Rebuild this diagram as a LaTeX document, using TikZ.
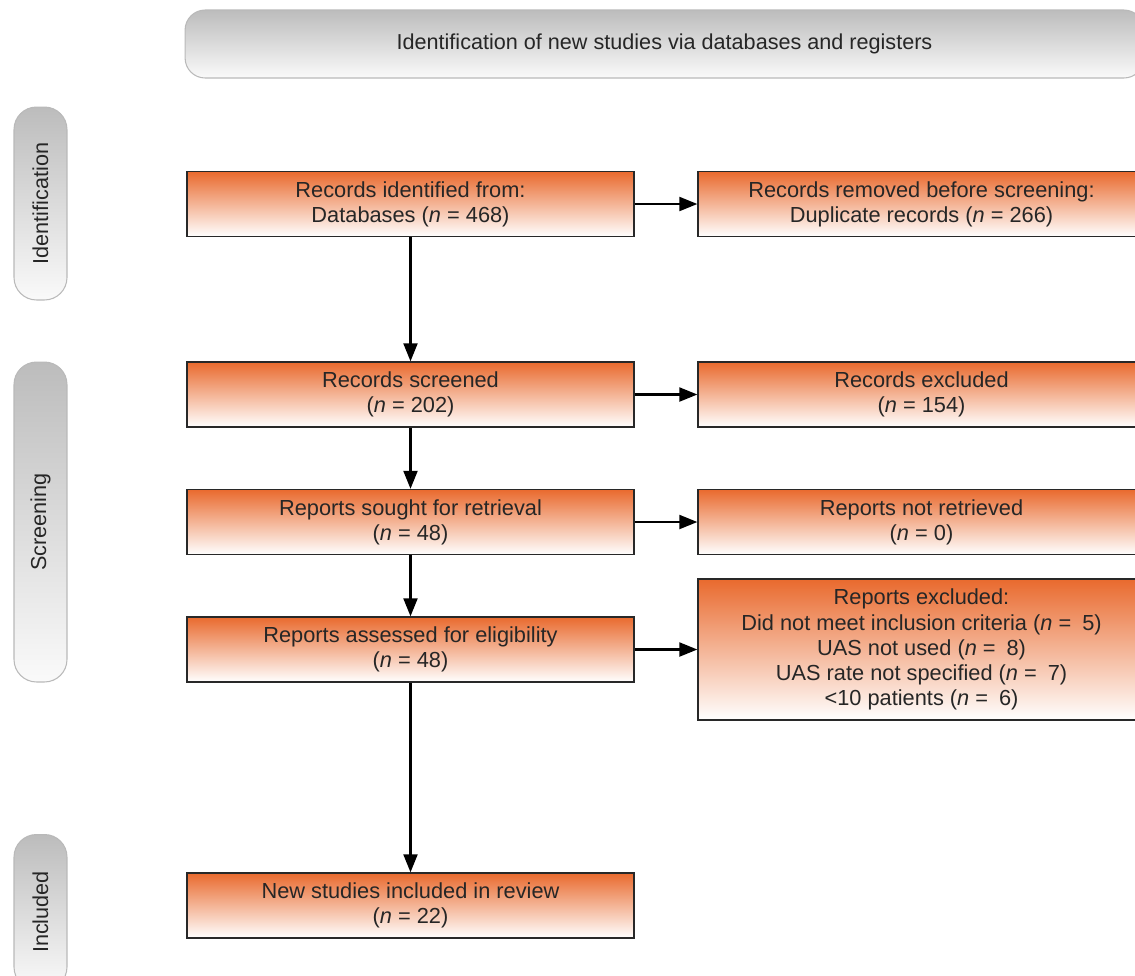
\documentclass[tikz,border=0pt]{standalone}
\usepackage{fontspec}
\setmainfont{Liberation Sans}
\usetikzlibrary{arrows.meta}
\definecolor{boxorange}{RGB}{233,106,46}
\definecolor{boxline}{RGB}{40,40,40}
\definecolor{bargray}{RGB}{188,188,188}

\begin{document}
\begin{tikzpicture}[x=0.02cm,y=-0.02cm,
    box/.style={draw=boxline,line width=0.8pt,top color=boxorange,bottom color=white,
      minimum width=8.94cm,minimum height=1.3cm,inner sep=0pt,align=center,
      font=\fontsize{12.4}{14.3}\selectfont,text=black!85},
    phase/.style={draw=gray!55,line width=0.6pt,rounded corners=0.45cm,top color=bargray,
      bottom color=gray!4,minimum height=1.06cm,inner sep=0pt,
      font=\fontsize{12.3}{14}\selectfont,text=black!85},
    arr/.style={-{Triangle[length=0.36cm,width=0.28cm]},line width=1.2pt}]
  \clip (0,0) rectangle (1135,975);

  % phase bars
  \node[phase,minimum width=19.18cm,minimum height=1.36cm,rounded corners=0.4cm] (h) at (664.5,44)
    {Identification of new studies via databases and registers};
  \node[phase,rotate=90,minimum width=3.86cm] (s1) at (40.5,203.5) {Identification};
  \node[phase,rotate=90,minimum width=6.4cm] (s2) at (40.5,522) {Screening};
  \node[phase,rotate=90,minimum width=3.1cm] (s3) at (40.5,912) {Included};

  % main column
  \node[box] (1) at (410.5,204) {Records identified from:\\Databases (\textit{n} = 468)};
  \node[box] (2) at (410.5,394.5) {Records screened\\(\textit{n} = 202)};
  \node[box] (3) at (410.5,522) {Reports sought for retrieval\\(\textit{n} = 48)};
  \node[box] (4) at (410.5,649.5) {Reports assessed for eligibility\\(\textit{n} = 48)};
  \node[box] (5) at (410.5,905.5) {New studies included in review\\(\textit{n} = 22)};

  % side column
  \node[box] (6) at (921.5,204) {Records removed before screening:\\Duplicate records (\textit{n} = 266)};
  \node[box] (7) at (921.5,394.5) {Records excluded\\(\textit{n} = 154)};
  \node[box] (8) at (921.5,522) {Reports not retrieved\\(\textit{n} = 0)};
  \node[box,minimum height=2.82cm] (9) at (921.5,649.5) {Reports excluded:\\
    Did not meet inclusion criteria (\textit{n} =\enspace5)\\
    UAS not used (\textit{n} =\enspace8)\\
    UAS rate not specified (\textit{n} =\enspace7)\\
    {<}10 patients (\textit{n} =\enspace6)};

  \draw[arr] (1) to (2);
  \draw[arr] (2) to (3);
  \draw[arr] (3) to (4);
  \draw[arr] (4) to (5);
  \draw[arr] (1) to (6);
  \draw[arr] (2) to (7);
  \draw[arr] (3) to (8);
  \draw[arr] (4) to (9);
\end{tikzpicture}
\end{document}
